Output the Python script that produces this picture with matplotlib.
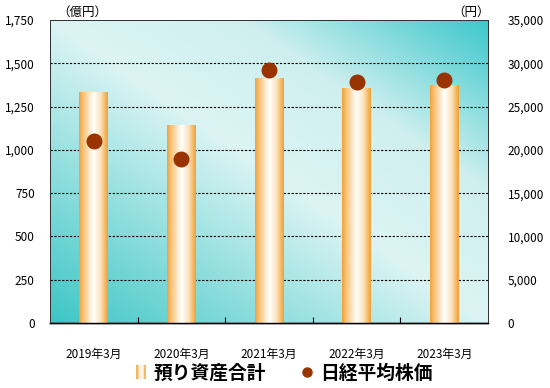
import matplotlib
matplotlib.use("Agg")
import matplotlib.pyplot as plt
import numpy as np
from matplotlib.colors import LinearSegmentedColormap
from matplotlib.lines import Line2D
from matplotlib.patches import Rectangle, Patch
from matplotlib.legend_handler import HandlerBase

plt.rcParams['font.family'] = ['Noto Sans CJK JP', 'DejaVu Sans']

# data
categories = ['2019年3月', '2020年3月', '2021年3月', '2022年3月', '2023年3月']
assets = [1334, 1138, 1415, 1352, 1369]          # 預り資産合計 (億円)
nikkei = [21000, 18917, 29179, 27821, 28041]      # 日経平均株価 (円)
left_ticks = np.arange(0, 1751, 250)
right_ticks = np.arange(0, 35001, 5000)

bar_cmap = LinearSegmentedColormap.from_list(
    'barg', [(0.0, '#f2a23a'), (0.15, '#f8c47a'), (0.5, '#ffffff'),
             (0.75, '#fde3bd'), (1.0, '#f0a030')])
bg_cmap = LinearSegmentedColormap.from_list(
    'bg', [(0.0, '#3ec6c6'), (0.5, '#dcf4f4'), (0.72, '#cfefef'), (1.0, '#3ec8cc')])
dot_color = '#993300'

fig = plt.figure(figsize=(5.5, 3.88), dpi=100)
ax = fig.add_axes([50 / 550, 1 - 323 / 388, 438 / 550, 303 / 388])
ax2 = ax.twinx()

# diagonal background
u, v = np.meshgrid(np.linspace(0, 1, 300), np.linspace(0, 1, 300))
ax.imshow((u + v) / 2, cmap=bg_cmap, extent=[0, 1, 0, 1], origin='lower',
          transform=ax.transAxes, aspect='auto', zorder=0)

x = np.arange(len(categories))
width = 0.33
bars = ax.bar(x, assets, width=width, color='none', zorder=3)
grad = np.linspace(0, 1, 100).reshape(1, -1)
for b in bars:
    x0, w, h = b.get_x(), b.get_width(), b.get_height()
    ax.imshow(grad, cmap=bar_cmap, extent=[x0, x0 + w, 0, h],
              aspect='auto', zorder=3)

ax.set_xlim(-0.5, len(categories) - 0.5)
ax.set_ylim(0, 1750)
ax.set_yticks(left_ticks)
ax.set_yticklabels([f'{t:,}' for t in left_ticks])
for t in left_ticks[1:-1]:
    ax.axhline(t, color='black', lw=0.8, ls=(0, (2, 1.5)), zorder=2)

ax.set_xticks(x)
ax.set_xticklabels(categories)
ax.set_xticks(np.arange(0.5, len(categories) - 1, 1), minor=True)
ax.tick_params(axis='x', which='major', length=0, pad=18, labelsize=8.5)
ax.tick_params(axis='x', which='minor', length=4, direction='in', width=0.8)
ax.tick_params(axis='y', length=0, pad=11, labelsize=8.5)

ax2.scatter(x, nikkei, s=110, color=dot_color, zorder=5)
ax2.set_ylim(0, 35000)
ax2.set_yticks(right_ticks)
ax2.set_yticklabels([f'{t:,}' for t in right_ticks])
ax2.tick_params(axis='y', length=0, pad=14, labelsize=8.5)

for a in (ax, ax2):
    for s in a.spines.values():
        s.set_color('#333333')
        s.set_linewidth(0.7)
    a.spines['bottom'].set_color('black')
    a.spines['bottom'].set_linewidth(1.0)

fig.text(57 / 550, 1 - 12 / 388, '（億円）', fontsize=9, ha='left', va='center')
fig.text(490 / 550, 1 - 12 / 388, '（円）', fontsize=9, ha='right', va='center')


class GradHandler(HandlerBase):
    def create_artists(self, legend, orig_handle, xd, yd, w, h, fontsize, trans):
        n = 6
        bw = 7 / n
        x0 = w - 8
        arts = []
        for i in range(n):
            c = bar_cmap((i + 0.5) / n)
            r = Rectangle((x0 + i * bw - xd, -yd), bw, h, facecolor=c,
                          edgecolor='none', transform=trans)
            arts.append(r)
        return arts


h1 = Patch(facecolor='#f2a23a')
h2 = Line2D([], [], marker='o', ls='none', color=dot_color, markersize=6.5)
fig.legend([h1, h2], ['預り資産合計', '日経平均株価'],
           handler_map={Patch: GradHandler()},
           loc='center', bbox_to_anchor=(0.515, 1 - 373 / 388), ncol=2,
           frameon=False, prop={'size': 13.5, 'weight': 'bold'},
           handlelength=0.7, handletextpad=0.35, columnspacing=1.8)

fig.savefig('out.png', dpi=100)
